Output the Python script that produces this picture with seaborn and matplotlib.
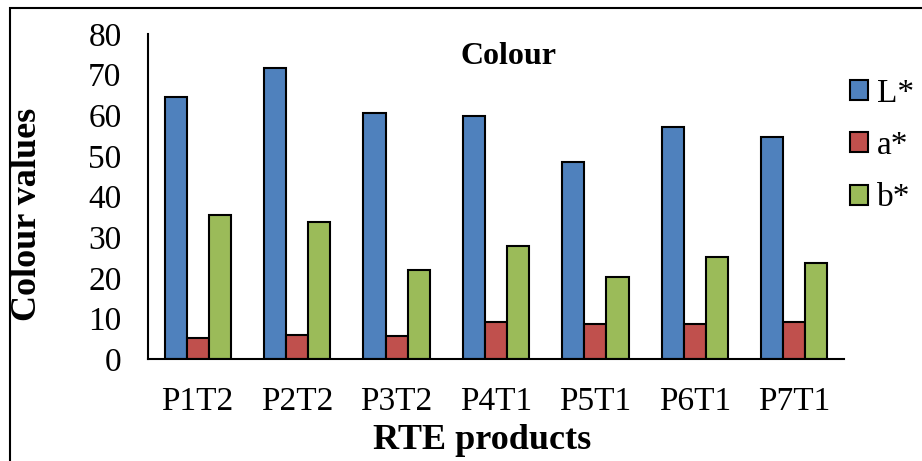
import numpy as np
import pandas as pd
import matplotlib
matplotlib.use('Agg')
import matplotlib.pyplot as plt
import seaborn as sns
from matplotlib.patches import Patch, Rectangle

# ==============================
# DATA
# ==============================
products = ['P1T2', 'P2T2', 'P3T2', 'P4T1', 'P5T1', 'P6T1', 'P7T1']
L_star = [64.6, 71.7, 60.5, 59.8, 48.5, 57.0, 54.6]
a_star = [5.2, 5.9, 5.7, 9.2, 8.7, 8.5, 9.0]
b_star = [35.5, 33.7, 21.9, 27.9, 20.3, 25.1, 23.7]
params = ['L*', 'a*', 'b*']
colors = ['#4F81BD', '#C0504D', '#9BBB59']

df = pd.DataFrame({
    'product': products * 3,
    'param': [p for p in params for _ in products],
    'value': L_star + a_star + b_star,
})

sns.set_style('white')
plt.rcParams['font.family'] = ['Liberation Serif', 'DejaVu Serif']
plt.rcParams['font.size'] = 24
plt.rcParams['text.color'] = 'black'
plt.rcParams['xtick.color'] = 'black'
plt.rcParams['ytick.color'] = 'black'

fig = plt.figure(figsize=(9.22, 4.61), dpi=100)
ax = fig.add_axes([148/922, 1 - 359/461, 696/922, 325/461])

sns.barplot(data=df, x='product', y='value', hue='param', order=products,
            hue_order=params, palette=colors, saturation=1, width=0.667, gap=0,
            edgecolor='black', linewidth=1.5, legend=False, ax=ax)

# axes styling
ax.set_ylim(0, 80)
ax.set_yticks(np.arange(0, 81, 10))
ax.set_xlim(-0.5, len(products) - 0.5)
ax.set_xticks(np.arange(-0.5, len(products), 1.0))
ax.set_xticklabels([])
ax.set_xticks(np.arange(len(products)), minor=True)
ax.set_xticklabels(products, minor=True)
ax.tick_params(axis='x', which='major', direction='out', length=8, width=1.5, color='black')
ax.tick_params(axis='x', which='minor', length=0, pad=20, labelsize=24)
ax.tick_params(axis='y', direction='out', length=8, width=1.5, color='black', pad=11, labelsize=24)
for s in ['top', 'right']:
    ax.spines[s].set_visible(False)
for s in ['left', 'bottom']:
    ax.spines[s].set_color('black')
    ax.spines[s].set_linewidth(1.5)
ax.set_xlabel('')
ax.set_ylabel('')

# labels and title
fig.text(508/922, 1 - 57/461, 'Colour', ha='center', va='center',
         fontweight='bold', fontsize=23)
fig.text(482/922, 1 - 440/461, 'RTE products', ha='center', va='center',
         fontweight='bold', fontsize=26)
fig.text(28/922, 1 - 214/461, 'Colour values', ha='center', va='center',
         rotation=90, fontweight='bold', fontsize=26)

# legend
handles = [Patch(facecolor=c, edgecolor='black', linewidth=1.5, label=p)
           for c, p in zip(colors, params)]
fig.legend(handles=handles, loc='upper left', bbox_to_anchor=(850/922, 1 - 78/461),
           frameon=False, handlelength=0.55, handleheight=0.55, handletextpad=0.25,
           labelspacing=0.66, borderpad=0, borderaxespad=0, fontsize=24)

# outer frame
fig.patches.append(Rectangle((10/922, -0.1), 1.2, 0.1 + 1 - 8/461,
                             transform=fig.transFigure, fill=False,
                             edgecolor='black', linewidth=1.5))

plt.savefig('out.png', dpi=100)
